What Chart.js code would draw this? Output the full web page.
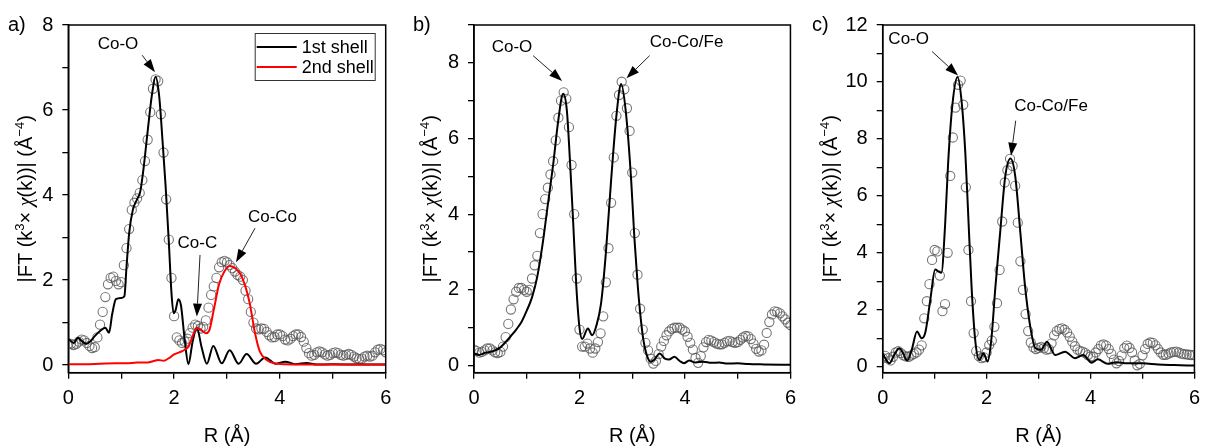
<!DOCTYPE html>
<html><head><meta charset="utf-8">
<script src="https://cdn.jsdelivr.net/npm/chart.js@4.4.1/dist/chart.umd.min.js"></script>
<style>
html,body{margin:0;padding:0;background:#fff;}
#wrap{position:relative;width:1208px;height:448px;overflow:hidden;}
canvas{position:absolute;top:0;}
</style></head><body>
<div id="wrap">
<canvas id="ca" width="400" height="448" style="left:0px"></canvas>
<canvas id="cb" width="404" height="448" style="left:400px"></canvas>
<canvas id="cc" width="404" height="448" style="left:804px"></canvas>
</div>
<script>
// ---------- DATA ----------
// R grid (Å) of the measured FT points
const R = [0.00,0.05,0.10,0.15,0.20,0.25,0.30,0.35,0.40,0.45,
0.50,0.55,0.60,0.65,0.70,0.75,0.80,0.85,0.90,0.95,
1.00,1.05,1.10,1.15,1.20,1.25,1.30,1.35,1.40,1.45,
1.50,1.55,1.60,1.65,1.70,1.75,1.80,1.85,1.90,1.95,
2.00,2.05,2.10,2.15,2.20,2.25,2.30,2.35,2.40,2.45,
2.50,2.55,2.60,2.65,2.70,2.75,2.80,2.85,2.90,2.95,
3.00,3.05,3.10,3.15,3.20,3.25,3.30,3.35,3.40,3.45,
3.50,3.55,3.60,3.65,3.70,3.75,3.80,3.85,3.90,3.95,
4.00,4.05,4.10,4.15,4.20,4.25,4.30,4.35,4.40,4.45,
4.50,4.55,4.60,4.65,4.70,4.75,4.80,4.85,4.90,4.95,
5.00,5.05,5.10,5.15,5.20,5.25,5.30,5.35,5.40,5.45,
5.50,5.55,5.60,5.65,5.70,5.75,5.80,5.85,5.90,5.95,
6.00];

// panel a – measured |FT|
const expA = [0.50,0.50,0.47,0.50,0.55,0.60,0.58,0.52,0.45,0.40,
0.42,0.65,0.95,1.25,1.60,1.90,2.05,2.08,1.98,1.90,
1.95,2.35,2.75,3.20,3.65,3.82,3.92,4.05,4.35,4.80,
5.30,5.95,6.50,6.72,6.68,5.90,5.00,3.90,2.95,2.05,
1.15,0.65,0.58,0.52,0.55,0.62,0.75,0.88,0.95,0.92,
0.86,0.90,1.05,1.35,1.65,1.85,2.05,2.30,2.42,2.45,
2.42,2.35,2.28,2.20,2.12,2.08,2.00,1.75,1.55,1.25,
1.00,0.86,0.84,0.86,0.85,0.78,0.70,0.65,0.66,0.72,
0.72,0.68,0.60,0.58,0.62,0.68,0.72,0.72,0.66,0.55,
0.40,0.28,0.22,0.24,0.30,0.32,0.30,0.25,0.22,0.24,
0.28,0.30,0.28,0.24,0.22,0.24,0.26,0.24,0.20,0.16,
0.14,0.15,0.20,0.22,0.20,0.22,0.30,0.36,0.38,0.35,
0.30];

// panel a – 1st shell fit
const fitA_R = [0,0.1,0.18,0.26,0.34,0.42,0.5,0.6,0.7,0.77,0.83,0.9,1.0,1.06,1.1,1.15,1.22,1.3,1.36,1.42,1.5,1.58,1.65,1.72,1.78,1.84,1.9,1.95,1.99,2.03,2.08,2.13,2.2,2.27,2.35,2.43,2.52,2.62,2.74,2.9,3.05,3.22,3.37,3.55,3.72,3.92,4.1,4.3,4.5,4.7,5.0,5.5,6.0];
const fitA   = [0.62,0.52,0.64,0.56,0.5,0.56,0.68,0.8,0.88,0.76,1.2,1.55,1.58,1.62,2.3,3.1,3.65,3.9,4.08,4.6,5.5,6.35,6.78,6.3,5.3,4.2,2.9,1.7,1.22,1.3,1.55,1.4,0.6,0.02,0.55,0.88,0.42,0.03,0.45,0.04,0.35,0.03,0.26,0.03,0.18,0.03,0.08,0.02,0.05,0.01,0.02,0.01,0.01];

// panel a – 2nd shell fit
const shellA_R = [0,0.3,0.6,0.9,1.1,1.3,1.5,1.6,1.7,1.8,1.9,2.0,2.1,2.2,2.28,2.35,2.43,2.5,2.6,2.66,2.75,2.85,2.95,3.05,3.15,3.25,3.34,3.43,3.53,3.62,3.75,3.9,4.1,5.0,6.0];
const shellA   = [0.02,0.02,0.03,0.04,0.04,0.06,0.06,0.09,0.12,0.1,0.16,0.25,0.3,0.36,0.45,0.68,0.87,0.84,0.75,0.8,1.3,1.9,2.2,2.33,2.28,2.15,1.88,1.45,0.75,0.32,0.12,0.04,0.02,0.01,0.01];

// panel b – measured |FT|
const expB = [0.42,0.38,0.34,0.36,0.40,0.45,0.45,0.40,0.35,0.33,
0.36,0.50,0.75,1.10,1.48,1.75,1.95,2.05,2.05,2.00,
1.95,2.00,2.30,2.65,2.90,3.50,4.00,4.40,4.70,5.05,
5.40,5.95,6.55,7.00,7.22,7.05,6.30,5.30,4.00,2.30,
0.95,0.50,0.50,0.58,0.45,0.34,0.45,0.62,0.85,1.30,
2.20,3.10,4.30,5.50,6.60,7.15,7.50,7.30,6.80,6.20,
5.10,3.50,2.40,1.50,0.95,0.60,0.40,0.18,0.05,0.12,
0.30,0.50,0.65,0.80,0.90,0.97,1.00,1.00,1.00,0.95,
0.90,0.76,0.60,0.42,0.20,0.07,0.25,0.48,0.62,0.68,
0.66,0.62,0.58,0.56,0.56,0.60,0.64,0.65,0.62,0.60,
0.62,0.68,0.74,0.78,0.77,0.70,0.58,0.44,0.37,0.40,
0.55,0.86,1.15,1.35,1.43,1.42,1.38,1.30,1.22,1.13,
1.07];

// panel b – fit
const fitB_R = [0,0.1,0.2,0.3,0.4,0.5,0.6,0.7,0.8,0.9,1.0,1.1,1.2,1.3,1.4,1.5,1.6,1.69,1.76,1.82,1.88,1.94,2.0,2.05,2.16,2.24,2.32,2.41,2.5,2.6,2.7,2.79,2.88,2.98,3.04,3.1,3.15,3.21,3.27,3.35,3.42,3.52,3.62,3.7,3.8,3.9,3.98,4.08,4.2,4.35,4.5,4.65,4.8,5.0,5.2,5.5,6.0];
const fitB   = [0.32,0.28,0.33,0.36,0.4,0.48,0.62,0.78,0.95,1.15,1.45,1.8,2.35,3.2,4.25,5.3,6.5,7.18,6.75,5.4,3.8,2.1,1.0,0.7,0.98,0.8,1.05,1.65,2.97,4.9,6.6,7.44,6.69,4.9,3.4,2.2,1.4,0.69,0.3,0.1,0.15,0.32,0.18,0.16,0.23,0.12,0.06,0.13,0.08,0.1,0.07,0.08,0.05,0.06,0.04,0.03,0.02];

// panel c – measured |FT|
const expC = [0.30,0.38,0.30,0.22,0.35,0.50,0.55,0.48,0.40,0.36,
0.35,0.40,0.45,0.50,0.60,0.75,1.70,2.30,2.90,3.75,
4.10,4.05,3.20,1.95,2.20,4.00,6.70,8.05,9.10,9.90,
10.05,9.20,6.30,4.10,2.30,1.18,0.55,0.37,0.30,0.33,
0.50,0.76,0.92,1.40,2.23,3.40,5.10,6.47,6.90,7.30,
7.05,6.35,5.06,3.70,2.70,1.85,1.25,0.85,0.68,0.62,
0.66,0.70,0.65,0.60,0.62,0.82,1.10,1.25,1.32,1.35,
1.30,1.20,1.05,0.88,0.72,0.60,0.55,0.53,0.48,0.41,
0.36,0.35,0.50,0.62,0.75,0.78,0.74,0.62,0.45,0.25,
0.12,0.20,0.40,0.65,0.74,0.66,0.50,0.22,0.05,0.10,
0.40,0.62,0.80,0.85,0.84,0.75,0.62,0.50,0.42,0.42,
0.46,0.50,0.52,0.53,0.50,0.46,0.44,0.43,0.42,0.41,
0.41];

// panel c – fit
const fitC_R = [0,0.13,0.23,0.32,0.4,0.47,0.56,0.66,0.75,0.82,0.92,1.01,1.07,1.13,1.2,1.26,1.34,1.44,1.52,1.59,1.65,1.71,1.78,1.86,1.94,2.02,2.09,2.17,2.26,2.36,2.46,2.55,2.65,2.74,2.84,2.94,3.05,3.16,3.32,3.51,3.7,3.86,4.02,4.14,4.33,4.5,4.7,5.0,5.3,5.6,6.0];
const fitC   = [0.45,0.12,0.45,0.65,0.45,0.22,0.6,1.24,1.0,1.2,2.4,3.41,3.35,3.3,4.94,7.17,9.17,10.17,9.29,7.52,5.17,2.82,0.94,0.24,0.47,0.18,0.94,2.82,4.7,6.7,7.31,6.7,4.7,2.82,1.41,0.65,0.6,0.88,0.41,0.53,0.3,0.41,0.14,0.26,0.1,0.16,0.12,0.12,0.08,0.06,0.04];

// tick labels
const xTickLabels = ['0','2','4','6'];
const yTickLabelsA = ['0','2','4','6','8'];
const yTickLabelsB = ['0','2','4','6','8'];
const yTickLabelsC = ['0','2','4','6','8','10','12'];

// ---------- RENDERING ----------
const FONT = '"Liberation Sans", Arial, Helvetica, sans-serif';
Chart.defaults.font.family = FONT;
const pts = (xs, ys) => xs.map((x, i) => ({x: x, y: ys[i]}));

function arrow(ctx, x1, y1, x2, y2) {
  const ang = Math.atan2(y2 - y1, x2 - x1), L = 13, W = 4.5;
  const bx = x2 - L * Math.cos(ang), by = y2 - L * Math.sin(ang);
  ctx.strokeStyle = '#222'; ctx.lineWidth = 1;
  ctx.beginPath(); ctx.moveTo(x1, y1); ctx.lineTo(bx, by); ctx.stroke();
  ctx.beginPath(); ctx.moveTo(x2, y2);
  ctx.lineTo(bx + W * Math.sin(ang), by - W * Math.cos(ang));
  ctx.lineTo(bx - W * Math.sin(ang), by + W * Math.cos(ang));
  ctx.closePath(); ctx.fillStyle = '#000'; ctx.fill();
}

function segFont(s, size) {
  if (s.sup) return `${Math.round(size * 0.65)}px ${FONT}`;
  if (s.greek) return `italic ${size}px "Liberation Serif", "DejaVu Serif", serif`;
  return `${size}px ${FONT}`;
}
function richWidth(ctx, segs, size) {
  let w = 0;
  segs.forEach(s => { ctx.font = segFont(s, size); w += ctx.measureText(s.t).width; });
  return w;
}
const yTitleSegs = [{t: '|FT (k'}, {t: '3', sup: true}, {t: '× '}, {t: 'χ', greek: true}, {t: '(k))| (Å'}, {t: '−4', sup: true}, {t: ')'}];

const decor = {
  id: 'decor',
  afterDatasetsDraw(chart, args, o) {
    const ctx = chart.ctx, ca = chart.chartArea, sx = chart.scales.x, sy = chart.scales.y;
    ctx.save();
    ctx.strokeStyle = '#000'; ctx.lineWidth = 1.5;
    ctx.strokeRect(ca.left, ca.top, ca.right - ca.left, ca.bottom - ca.top);
    ctx.textAlign = 'center'; ctx.textBaseline = 'middle';
    (o.notes || []).forEach(n => {
      ctx.font = `17px ${FONT}`; ctx.fillStyle = '#000';
      ctx.fillText(n.text, sx.getPixelForValue(n.tx), sy.getPixelForValue(n.ty));
      arrow(ctx, sx.getPixelForValue(n.ax), sy.getPixelForValue(n.ay), sx.getPixelForValue(n.bx), sy.getPixelForValue(n.by));
    });
    if (o.legend) {
      const w = 120, h = 47, x0 = ca.right - 131, y0 = ca.top + 8;
      ctx.fillStyle = '#fff'; ctx.fillRect(x0, y0, w, h);
      ctx.strokeStyle = '#333'; ctx.lineWidth = 1; ctx.strokeRect(x0 + 0.5, y0 + 0.5, w, h);
      chart.data.datasets.filter(d => d.showLine && d.label).forEach((d, i) => {
        const y = y0 + 14 + i * 20;
        ctx.strokeStyle = d.borderColor; ctx.lineWidth = 2;
        ctx.beginPath(); ctx.moveTo(x0 + 2, y); ctx.lineTo(x0 + 42, y); ctx.stroke();
        ctx.fillStyle = '#000'; ctx.font = `18px ${FONT}`; ctx.textAlign = 'left'; ctx.textBaseline = 'middle';
        ctx.fillText(d.label, x0 + 47, y + 1);
      });
    }
    ctx.restore();
  },
  afterDraw(chart, args, o) {
    const ctx = chart.ctx, ca = chart.chartArea;
    ctx.save();
    ctx.fillStyle = '#000';
    ctx.font = `20px ${FONT}`; ctx.textAlign = 'center'; ctx.textBaseline = 'middle';
    ctx.fillText('R (Å)', (ca.left + ca.right) / 2, 436);
    ctx.textAlign = 'left';
    ctx.fillText(o.panel, o.panelX, 25);
    const size = 20;
    const tw = richWidth(ctx, yTitleSegs, size);
    ctx.translate(o.yTitleX, (ca.top + ca.bottom) / 2);
    ctx.rotate(-Math.PI / 2);
    ctx.textAlign = 'left'; ctx.textBaseline = 'alphabetic';
    let cx = -tw / 2;
    yTitleSegs.forEach(s => {
      ctx.font = segFont(s, size);
      ctx.fillText(s.t, cx, s.sup ? -size * 0.4 : 0);
      cx += ctx.measureText(s.t).width;
    });
    ctx.restore();
  }
};

function axis(min, max, labels, fixed, isX) {
  return {
    type: 'linear', min: min, max: max,
    afterFit: s => { if (isX) s.height = fixed; else s.width = fixed; },
    ticks: {
      stepSize: 1, autoSkip: false, includeBounds: false, maxRotation: 0,
      color: '#000', font: {family: FONT, size: 20}, padding: isX ? 8 : 9,
      callback: v => labels.includes(String(v)) ? String(v) : ''
    },
    grid: {display: true, drawOnChartArea: false, drawTicks: true, tickLength: 6, color: '#000', lineWidth: 1.3},
    border: {display: true, color: '#000', width: 1.5}
  };
}

function makePanel(id, cfg) {
  const el = document.getElementById(id);
  new Chart(el, {
    type: 'scatter',
    data: {datasets: cfg.datasets},
    options: {
      responsive: false, animation: false, devicePixelRatio: 1, events: [],
      layout: {padding: {left: 0, right: el.width - cfg.right, top: 25, bottom: 0}},
      plugins: {legend: {display: false}, tooltip: {enabled: false},
        decor: {notes: cfg.notes, legend: cfg.legend, panel: cfg.panel, panelX: cfg.panelX, yTitleX: cfg.yTitleX}},
      scales: {
        x: axis(0, 6, xTickLabels, 448 - 372.7, true),
        y: axis(cfg.ymin, cfg.ymax, cfg.ylabels, cfg.left, false)
      }
    },
    plugins: [decor]
  });
}

const circles = (d) => ({label: '', data: pts(R, d), showLine: false, pointStyle: 'circle', pointRadius: 4.6,
  pointBorderWidth: 1.1, pointBorderColor: 'rgba(85,85,85,0.8)', pointBackgroundColor: 'rgba(0,0,0,0)', order: 3});
const line = (label, xs, ys, color, order) => ({label: label, data: pts(xs, ys), showLine: true, pointRadius: 0,
  borderColor: color, borderWidth: 2, cubicInterpolationMode: 'monotone', order: order});

makePanel('ca', {
  left: 68.3, right: 385.7, ymin: -0.18, ymax: 8, ylabels: yTickLabelsA,
  panel: 'a)', panelX: 8, yTitleX: 32, legend: true,
  datasets: [circles(expA), line('1st shell', fitA_R, fitA, '#000', 2), line('2nd shell', shellA_R, shellA, '#ff0000', 1)],
  notes: [
    {text: 'Co-O', tx: 0.94, ty: 7.55, ax: 1.395, ay: 7.29, bx: 1.64, by: 6.89},
    {text: 'Co-C', tx: 2.44, ty: 2.87, ax: 2.49, ay: 2.59, bx: 2.43, by: 1.14},
    {text: 'Co-Co', tx: 3.86, ty: 3.48, ax: 3.53, ay: 3.22, bx: 3.17, by: 2.42}
  ]
});
makePanel('cb', {
  left: 74, right: 391, ymin: -0.19, ymax: 9, ylabels: yTickLabelsB,
  panel: 'b)', panelX: 13, yTitleX: 37, legend: false,
  datasets: [circles(expB), line('fit', fitB_R, fitB, '#000', 2)],
  notes: [
    {text: 'Co-O', tx: 0.72, ty: 8.4, ax: 1.12, ay: 8.19, bx: 1.67, by: 7.52},
    {text: 'Co-Co/Fe', tx: 4.03, ty: 8.53, ax: 3.33, ay: 8.19, bx: 2.89, by: 7.59}
  ]
});
makePanel('cc', {
  left: 78.7, right: 396, ymin: -0.21, ymax: 12, ylabels: yTickLabelsC,
  panel: 'c)', panelX: 8, yTitleX: 33, legend: false,
  datasets: [circles(expC), line('fit', fitC_R, fitC, '#000', 2)],
  notes: [
    {text: 'Co-O', tx: 0.5, ty: 11.49, ax: 0.95, ay: 11.07, bx: 1.45, by: 10.23},
    {text: 'Co-Co/Fe', tx: 3.24, ty: 9.16, ax: 2.56, ay: 8.64, bx: 2.47, by: 7.41}
  ]
});
</script>
</body></html>
